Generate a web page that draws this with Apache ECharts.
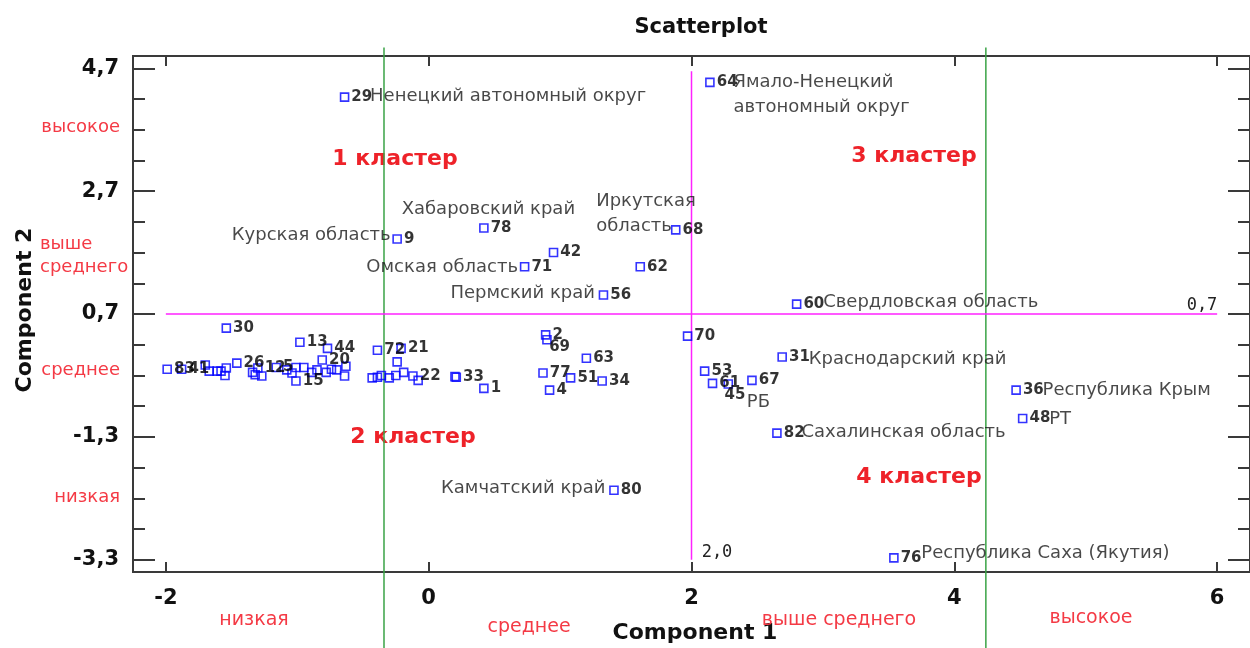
<!DOCTYPE html>
<html><head><meta charset="utf-8">
<script src="https://cdn.jsdelivr.net/npm/echarts@6/dist/echarts.min.js"></script>
<style>html,body{margin:0;padding:0;background:#fff}#c{width:1250px;height:648px}</style>
</head><body><div id="c"></div>
<script>
// ---------------- data ----------------
const pointIds = ['29','64','9','78','68','42','71','62','56','60',
  '30','13','44','20','72','21','22','33','1','2',
  '69','63','77','51','34','4','70','31','53','61',
  '45','67','82','80','76','36','48','83','41','26',
  '12','5','15',
  '','','','','','','','','','','','','','','','','','','','','','','','','','','','','',''];
const pointX = [-0.64, 2.14, -0.24, 0.42, 1.88, 0.95, 0.73, 1.61, 1.33, 2.80,
  -1.54, -0.98, -0.77, -0.81, -0.39, -0.21, -0.12, 0.21, 0.42, 0.89,
  0.90, 1.20, 0.87, 1.08, 1.32, 0.92, 1.97, 2.69, 2.10, 2.16,
  2.28, 2.46, 2.65, 1.41, 3.54, 4.47, 4.52, -1.99, -1.88, -1.46,
  -1.30, -1.16, -1.01,
  -1.70, -1.67, -1.61, -1.58, -1.54, -1.55, -1.34, -1.32, -1.27, -1.08,
  -1.04, -1.01, -0.95, -0.89, -0.85, -0.78, -0.74, -0.70, -0.64, -0.63,
  -0.24, -0.43, -0.39, -0.36, -0.30, -0.25, -0.19, -0.08, 0.20];
const pointY = [4.23, 4.47, 1.92, 2.10, 2.07, 1.70, 1.47, 1.47, 1.01, 0.86,
  0.47, 0.24, 0.14, -0.05, 0.11, 0.14, -0.31, -0.33, -0.51, 0.36,
  0.28, -0.02, -0.26, -0.34, -0.39, -0.54, 0.34, 0.00, -0.23, -0.43,
  -0.44, -0.38, -1.24, -2.17, -3.27, -0.54, -1.00, -0.20, -0.20, -0.10,
  -0.18, -0.17, -0.39,
  -0.13, -0.23, -0.23, -0.23, -0.18, -0.30, -0.25, -0.29, -0.31, -0.21,
  -0.26, -0.17, -0.17, -0.25, -0.21, -0.25, -0.20, -0.21, -0.31, -0.15,
  -0.08, -0.34, -0.33, -0.30, -0.34, -0.30, -0.25, -0.38, -0.32];

const nameIds = ['29','64','9','78','68','71','56','60','31','36','48','82','80','76','45'];
const nameTexts = ['Ненецкий автономный округ', 'Ямало-Ненецкий\nавтономный округ', 'Курская область',
  'Хабаровский край', 'Иркутская\nобласть', 'Омская область', 'Пермский край', 'Свердловская область',
  'Краснодарский край', 'Республика Крым', 'РТ', 'Сахалинская область', 'Камчатский край',
  'Республика Саха (Якутия)', 'РБ'];

const xMajorTicks = [-2, 0, 2, 4, 6];
const yMajorTicks = [-3.3, -1.3, 0.7, 2.7, 4.7];
const yMinorTicks = [-2.8, -2.3, -1.8, -0.8, -0.3, 0.2, 1.2, 1.7, 2.2, 3.2, 3.7, 4.2];

const yLevelLabels = ['высокое', 'выше\nсреднего', 'среднее', 'низкая'];
const xLevelLabels = ['низкая', 'среднее', 'выше среднего', 'высокое'];
const clusterLabels = ['1 кластер', '2 кластер', '3 кластер', '4 кластер'];

const magentaH = [[-2, 0.7], [6, 0.7]];
const magentaV = [[2, -3.3], [2, 4.65]];
const greenV1 = [[-0.34, -4.8], [-0.34, 5.04]];
const greenV2 = [[4.24, -4.8], [4.24, 5.04]];
const refLineTexts = ['0,7', '2,0'];

// ---------------- layout / style ----------------
const FONT = '"DejaVu Sans", "Liberation Sans", Arial, sans-serif';
const AX = '#3a3a3a';
const RED1 = '#ee2229';
const RED2 = '#f43a45';

const numberPlacement = {
  '69': [7, 12],
  '45': [1, 16]
};
const namePlacement = {
  '29': {dx: 26, dy: 0, align: 'left'},
  '64': {dx: 24, dy: -12, align: 'left', va: 'top'},
  '9':  {dx: -6, dy: -3, align: 'right'},
  '78': {dx: 5, dy: -18, align: 'center'},
  '68': {dx: -79, dy: -41, align: 'left', va: 'top'},
  '71': {dx: -6, dy: 1, align: 'right'},
  '56': {dx: -8, dy: -1, align: 'right'},
  '60': {dx: 27, dy: -1, align: 'left'},
  '31': {dx: 27, dy: 3, align: 'left'},
  '36': {dx: 27, dy: 1, align: 'left'},
  '48': {dx: 27, dy: 1, align: 'left'},
  '82': {dx: 25, dy: 0, align: 'left'},
  '80': {dx: -8, dy: -1, align: 'right'},
  '76': {dx: 28, dy: -4, align: 'left'},
  '45': {dx: 19, dy: 19, align: 'left'}
};

const fmt = v => String(v).replace('.', ',');

const scatterData = pointIds.map((id, i) => {
  const d = {name: id, value: [pointX[i], pointY[i]]};
  if (numberPlacement[id]) {
    d.label = {position: numberPlacement[id], align: 'left', verticalAlign: 'middle'};
  }
  return d;
});

const nameData = nameIds.map((id, i) => {
  const k = pointIds.indexOf(id);
  const p = namePlacement[id];
  return {
    name: nameTexts[i], value: [pointX[k], pointY[k]],
    label: {position: [p.dx, p.dy], align: p.align, verticalAlign: p.va || 'middle'}
  };
});

function lineSeries(data, color) {
  return {type: 'line', data: data, clip: false, silent: true, symbol: 'none',
    lineStyle: {color: color, width: 1.5}, z: 1, animation: false};
}

const yAxisBase = {type: 'value', min: -3.5, max: 4.9, splitLine: {show: false},
  axisLine: {show: true, onZero: false, lineStyle: {color: AX, width: 2}}};

const txt = (x, y, text, font, color, align, extra) => Object.assign({
  type: 'text', x: x, y: y, silent: true,
  style: {text: text, font: font, fill: color, align: align || 'center', verticalAlign: 'middle',
    textAlign: align || 'center', textVerticalAlign: 'middle', lineHeight: 23}
}, extra || {});

const chart = echarts.init(document.getElementById('c'), null, {renderer: 'canvas'});
chart.setOption({
  animation: false,
  backgroundColor: '#fff',
  grid: {left: 133, top: 56, width: 1122, height: 516, containLabel: false},
  xAxis: [
    {type: 'value', min: -2.25, max: 6.25, position: 'bottom', splitLine: {show: false},
      axisLine: {show: true, onZero: false, lineStyle: {color: AX, width: 2}},
      axisTick: {show: true, inside: true, length: 10, customValues: xMajorTicks, lineStyle: {color: AX, width: 2}},
      axisLabel: {customValues: xMajorTicks, formatter: fmt, fontFamily: FONT, fontWeight: 'bold',
        fontSize: 21, color: '#111', margin: 16}},
    {type: 'value', min: -2.25, max: 6.25, position: 'top', splitLine: {show: false},
      axisLine: {show: true, onZero: false, lineStyle: {color: AX, width: 2}},
      axisTick: {show: true, inside: true, length: 10, customValues: xMajorTicks, lineStyle: {color: AX, width: 2}},
      axisLabel: {show: false}}
  ],
  yAxis: [
    Object.assign({}, yAxisBase, {position: 'left',
      axisTick: {show: true, inside: true, length: 22, customValues: yMajorTicks, lineStyle: {color: AX, width: 2}},
      axisLabel: {customValues: yMajorTicks, formatter: fmt, fontFamily: FONT, fontWeight: 'bold',
        fontSize: 21, color: '#111', margin: 14}}),
    Object.assign({}, yAxisBase, {position: 'left',
      axisTick: {show: true, inside: true, length: 12, customValues: yMinorTicks, lineStyle: {color: AX, width: 2}},
      axisLabel: {show: false}}),
    Object.assign({}, yAxisBase, {position: 'right',
      axisTick: {show: true, inside: true, length: 22, customValues: yMajorTicks, lineStyle: {color: AX, width: 2}},
      axisLabel: {show: false}}),
    Object.assign({}, yAxisBase, {position: 'right',
      axisTick: {show: true, inside: true, length: 12, customValues: yMinorTicks, lineStyle: {color: AX, width: 2}},
      axisLabel: {show: false}})
  ],
  series: [
    lineSeries(greenV1, '#3aa346'),
    lineSeries(greenV2, '#3aa346'),
    lineSeries(magentaH, '#ff22ff'),
    lineSeries(magentaV, '#ff22ff'),
    {
      type: 'scatter', data: scatterData, symbol: 'rect', symbolSize: 8, z: 3,
      itemStyle: {color: 'rgba(255,255,255,0)', borderColor: '#0000ff', borderWidth: 1.6},
      label: {show: true, position: 'right', distance: 2, formatter: p => p.name,
        fontFamily: FONT, fontWeight: 'bold', fontSize: 15, color: '#000'}
    },
    {
      type: 'scatter', data: nameData, symbolSize: 1, silent: true, z: 4,
      itemStyle: {color: 'rgba(0,0,0,0)'},
      label: {show: true, formatter: p => p.name, fontFamily: FONT, fontSize: 18,
        color: '#1a1a1a', lineHeight: 25}
    }
  ],
  graphic: [
    txt(701, 28, 'Scatterplot', 'bold 21px ' + FONT, '#111'),
    txt(695, 633, 'Component 1', 'bold 22px ' + FONT, '#111'),
    txt(25, 310, 'Component 2', 'bold 22px ' + FONT, '#111', 'center', {rotation: Math.PI / 2}),
    // level labels, left
    txt(120, 127, yLevelLabels[0], '18px ' + FONT, RED2, 'right'),
    txt(40, 256, yLevelLabels[1], '18px ' + FONT, RED2, 'left'),
    txt(120, 370, yLevelLabels[2], '18px ' + FONT, RED2, 'right'),
    txt(120, 497, yLevelLabels[3], '18px ' + FONT, RED2, 'right'),
    // level labels, bottom
    txt(254, 620, xLevelLabels[0], '19px ' + FONT, RED2),
    txt(529, 627, xLevelLabels[1], '19px ' + FONT, RED2),
    txt(839, 620, xLevelLabels[2], '19px ' + FONT, RED2),
    txt(1091, 618, xLevelLabels[3], '19px ' + FONT, RED2),
    // cluster labels
    txt(395, 159, clusterLabels[0], 'bold 22px ' + FONT, RED1),
    txt(413, 437, clusterLabels[1], 'bold 22px ' + FONT, RED1),
    txt(914, 156, clusterLabels[2], 'bold 22px ' + FONT, RED1),
    txt(919, 477, clusterLabels[3], 'bold 22px ' + FONT, RED1),
    // reference line captions
    txt(1202, 306, refLineTexts[0], '17px "DejaVu Sans Mono", monospace', '#222'),
    txt(717, 553, refLineTexts[1], '17px "DejaVu Sans Mono", monospace', '#222')
  ]
});
</script>
</body></html>
